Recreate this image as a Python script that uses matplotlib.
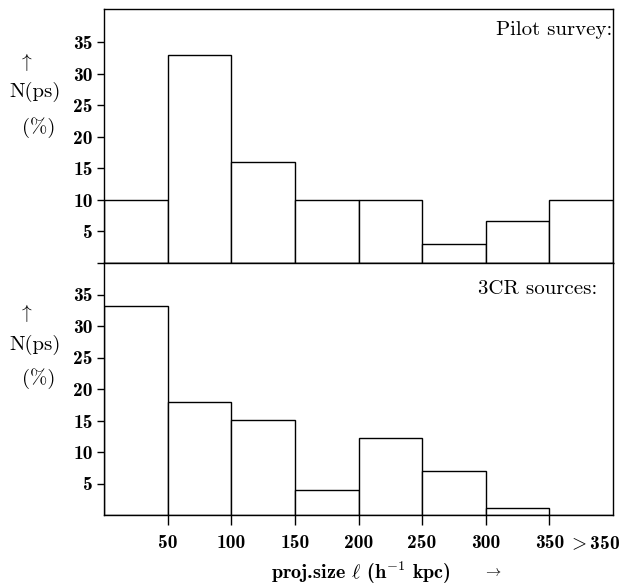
import matplotlib.pyplot as plt

plt.rcParams["mathtext.fontset"] = "cm"
plt.rcParams["axes.unicode_minus"] = False

# histogram bins (h^-1 kpc), last bin is ">350"
bin_left = [0, 50, 100, 150, 200, 250, 300, 350]
bin_width = 50
pilot_pct = [10, 33, 16, 10, 10, 3, 6.6, 10]
cr3_pct = [33.2, 18, 15.1, 4, 12.2, 7, 1.1, 0]
x_ticks = [50, 100, 150, 200, 250, 300, 350, 385]
x_labels = ["50", "100", "150", "200", "250", "300", "350", r"$>$350"]
y_ticks = [5, 10, 15, 20, 25, 30, 35]

W, H = 628, 586
fig = plt.figure(figsize=(W / 100, H / 100), dpi=100)


def fx(px):
    return px / W


def fy(py):
    return 1 - py / H


ax_top = fig.add_axes([fx(104), fy(263), fx(613) - fx(104), fy(9) - fy(263)])
ax_bot = fig.add_axes([fx(104), fy(515), fx(613) - fx(104), fy(263) - fy(515)])

for ax, vals, ymax in [(ax_top, pilot_pct, 40.3), (ax_bot, cr3_pct, 40.0)]:
    ax.bar(bin_left, vals, width=bin_width, align="edge",
           facecolor="white", edgecolor="black", linewidth=1.0)
    ax.set_xlim(0, 400)
    ax.set_ylim(0, ymax)
    ax.set_yticks(y_ticks)
    ax.set_yticklabels([str(t) for t in y_ticks], fontsize=14, family="cmb10")
    ax.tick_params(axis="y", direction="out", length=5, width=1, pad=3)
    for s in ax.spines.values():
        s.set_linewidth(1.0)

ax_top.set_xticks([])
ax_top.set_yticks([0] + y_ticks)
ax_top.set_yticklabels([""] + [str(t) for t in y_ticks], fontsize=14, family="cmb10")

ax_bot.set_xticks(x_ticks)
ax_bot.set_xticklabels(x_labels, fontsize=14, family="cmb10")
ax_bot.tick_params(axis="x", direction="out", length=7, width=1, pad=7)
ax_bot.xaxis.get_major_ticks()[-1].tick1line.set_visible(False)

# panel captions
fig.text(fx(612), fy(30), "Pilot survey:", fontsize=15, family="cmr10", ha="right", va="center")
fig.text(fx(597), fy(289), "3CR sources:", fontsize=15, family="cmr10", ha="right", va="center")

# y labels
for arr_y, n_y, p_y in [(62, 92, 128), (313, 345, 379)]:
    fig.text(fx(25), fy(arr_y), r"$\uparrow$", fontsize=14, ha="center", va="center")
    fig.text(fx(35), fy(n_y), "N(ps)", fontsize=15, family="cmr10", ha="center", va="center")
    fig.text(fx(39), fy(p_y), "(%)", fontsize=15, family="cmr10", ha="center", va="center")

# x label
fig.text(fx(361), fy(573), r"proj.size $\ell$ (h$^{-1}$ kpc)", fontsize=14.5, family="cmb10",
         ha="center", va="center")
fig.text(fx(493), fy(571), r"$\rightarrow$", fontsize=11, ha="center", va="center")

fig.savefig("out.png", dpi=100)
